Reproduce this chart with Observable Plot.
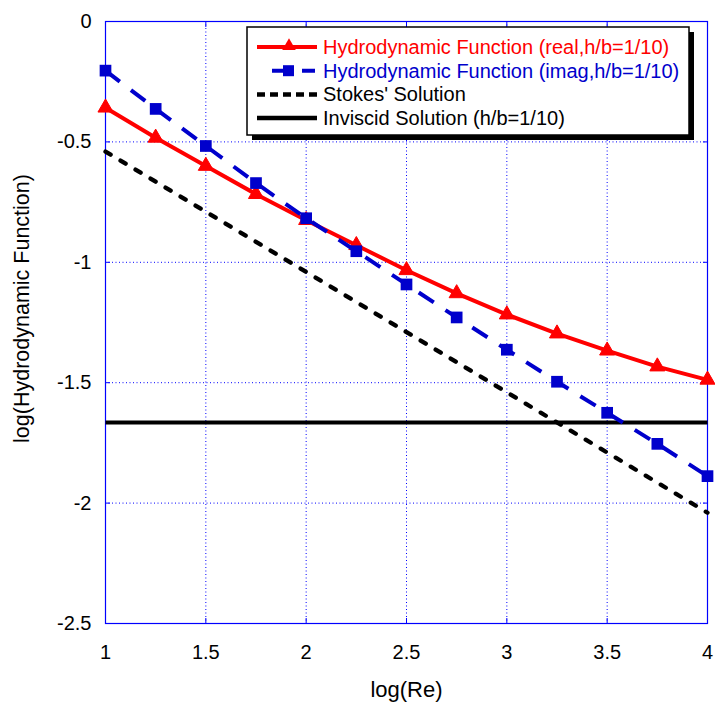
<!DOCTYPE html>
<html><head><meta charset="utf-8">
<script src="https://cdn.jsdelivr.net/npm/d3@7"></script>
<script src="https://cdn.jsdelivr.net/npm/@observablehq/plot@0.6"></script>
<style>
body{margin:0;background:#fff;}
</style></head><body><div id="chart"></div>
<script>
const logRe = [1, 1.25, 1.5, 1.75, 2, 2.25, 2.5, 2.75, 3, 3.25, 3.5, 3.75, 4];
const hydroReal = [-0.358, -0.483, -0.600, -0.717, -0.825, -0.929, -1.033, -1.129, -1.217, -1.296, -1.367, -1.433, -1.488];
const hydroImag = [-0.204, -0.363, -0.517, -0.671, -0.817, -0.954, -1.092, -1.229, -1.363, -1.496, -1.625, -1.754, -1.888];
const stokesX = [1, 1.5, 2, 2.5, 3, 3.5, 4];
const stokesY = [-0.54, -0.79, -1.04, -1.29, -1.54, -1.79, -2.04];
const inviscidX = [1, 4];
const inviscidY = [-1.665, -1.665];
const xTicks = [1, 1.5, 2, 2.5, 3, 3.5, 4];
const xTickLabels = ["1", "1.5", "2", "2.5", "3", "3.5", "4"];
const yTicks = [0, -0.5, -1, -1.5, -2, -2.5];
const yTickLabels = ["0", "-0.5", "-1", "-1.5", "-2", "-2.5"];
const seriesNames = ["Hydrodynamic Function (real,h/b=1/10)", "Hydrodynamic Function (imag,h/b=1/10)", "Stokes' Solution", "Inviscid Solution (h/b=1/10)"];
const xLabel = "log(Re)";
const yLabel = "log(Hydrodynamic Function)";

const RED = "#ff0000", BLUE = "#0000cc", FRAME = "#0000ff";
const real = logRe.map((x, i) => ({x, y: hydroReal[i]}));
const imag = logRe.map((x, i) => ({x, y: hydroImag[i]}));
const stokes = stokesX.map((x, i) => ({x, y: stokesY[i]}));
const inviscid = inviscidX.map((x, i) => ({x, y: inviscidY[i]}));
const xl = d => xTickLabels[xTicks.indexOf(d)];
const yl = d => yTickLabels[yTicks.indexOf(d)];
const font = "'Liberation Sans', Arial, sans-serif";

const plot = Plot.plot({
  width: 715, height: 703,
  marginLeft: 105, marginRight: 8, marginTop: 21, marginBottom: 80,
  style: {fontFamily: font, fontSize: "20px", color: "#000", background: "#fff", overflow: "visible"},
  x: {domain: [1, 4]},
  y: {domain: [-2.5, 0]},
  marks: [
    Plot.gridX(xTicks.slice(1, -1), {stroke: FRAME, strokeOpacity: 1, strokeWidth: 1, strokeDasharray: "1,2.5"}),
    Plot.gridY(yTicks.slice(1, -1), {stroke: FRAME, strokeOpacity: 1, strokeWidth: 1, strokeDasharray: "1,2.5"}),
    Plot.axisX({anchor: "bottom", ticks: xTicks, tickSize: 5, dy: -5, tickFormat: () => "", label: null, stroke: FRAME}),
    Plot.axisX({anchor: "top", ticks: xTicks, tickSize: 5, dy: 5, tickFormat: () => "", label: null, stroke: FRAME}),
    Plot.axisY({anchor: "left", ticks: yTicks, tickSize: 5, dx: 5, tickFormat: () => "", label: null, stroke: FRAME}),
    Plot.axisY({anchor: "right", ticks: yTicks, tickSize: 5, dx: -5, tickFormat: () => "", label: null, stroke: FRAME}),
    Plot.axisX({anchor: "bottom", ticks: xTicks, tickSize: 0, tickPadding: 21, tickFormat: xl, label: null, fontSize: 20}),
    Plot.axisY({anchor: "left", ticks: yTicks, tickSize: 0, tickPadding: 14, tickFormat: yl, label: null, fontSize: 20}),
    Plot.frame({stroke: FRAME, strokeWidth: 1.2}),
    Plot.text([xLabel], {frameAnchor: "bottom", dy: 66, lineAnchor: "middle", text: d => d, fontSize: 22}),
    Plot.text([yLabel], {frameAnchor: "left", dx: -83, dy: -14, rotate: -90, textAnchor: "middle", text: d => d, fontSize: 21.5}),
    Plot.line(inviscid, {x: "x", y: "y", stroke: "#000", strokeWidth: 4, strokeLinecap: "butt"}),
    Plot.line(stokes, {x: "x", y: "y", stroke: "#000", strokeWidth: 4.3, strokeDasharray: "6,11.5", strokeLinecap: "round"}),
    Plot.line(real, {x: "x", y: "y", stroke: RED, strokeWidth: 4}),
    Plot.dot(real, {x: "x", y: "y", symbol: "triangle", r: 5.6, fill: RED, stroke: RED, strokeWidth: 1}),
    Plot.line(imag, {x: "x", y: "y", stroke: BLUE, strokeWidth: 4, strokeDasharray: "18,14", strokeLinecap: "butt"}),
    Plot.dot(imag, {x: "x", y: "y", symbol: "square", r: 6.6, fill: BLUE})
  ]
});

// legend inside the SVG
const lg = d3.select(plot).append("g").attr("transform", "translate(247,27)").attr("text-anchor", "start");
lg.append("rect").attr("x", 5).attr("y", 5).attr("width", 442).attr("height", 108).attr("fill", "#000");
lg.append("rect").attr("x", 0).attr("y", 0).attr("width", 442).attr("height", 108)
  .attr("fill", "#fff").attr("stroke", "#000").attr("stroke-width", 1.5);
const rowY = i => 20 + i * 23.7;
const colors = [RED, BLUE, "#000", "#000"];
seriesNames.forEach((name, i) => {
  const g = lg.append("g").attr("transform", `translate(0,${rowY(i)})`);
  if (i === 0) {
    g.append("line").attr("x1", 10).attr("x2", 70).attr("stroke", RED).attr("stroke-width", 4);
    g.append("path").attr("d", d3.symbol(d3.symbolTriangle, 80)()).attr("transform", "translate(42,-1)").attr("fill", RED);
  } else if (i === 1) {
    g.append("line").attr("x1", 25).attr("x2", 68).attr("stroke", BLUE).attr("stroke-width", 4).attr("stroke-dasharray", "11,19,13");
    g.append("rect").attr("x", 36).attr("y", -5.5).attr("width", 11).attr("height", 11).attr("fill", BLUE);
  } else if (i === 2) {
    g.append("line").attr("x1", 10).attr("x2", 70).attr("stroke", "#000").attr("stroke-width", 4.5).attr("stroke-dasharray", "8,5");
  } else {
    g.append("line").attr("x1", 10).attr("x2", 70).attr("stroke", "#000").attr("stroke-width", 4.5);
  }
  g.append("text").attr("x", 76).attr("y", 0).attr("dy", "0.35em").attr("text-anchor", "start")
    .attr("font-family", font).attr("font-size", 20).attr("fill", colors[i]).text(name);
});

document.getElementById("chart").appendChild(plot);
</script></body></html>
